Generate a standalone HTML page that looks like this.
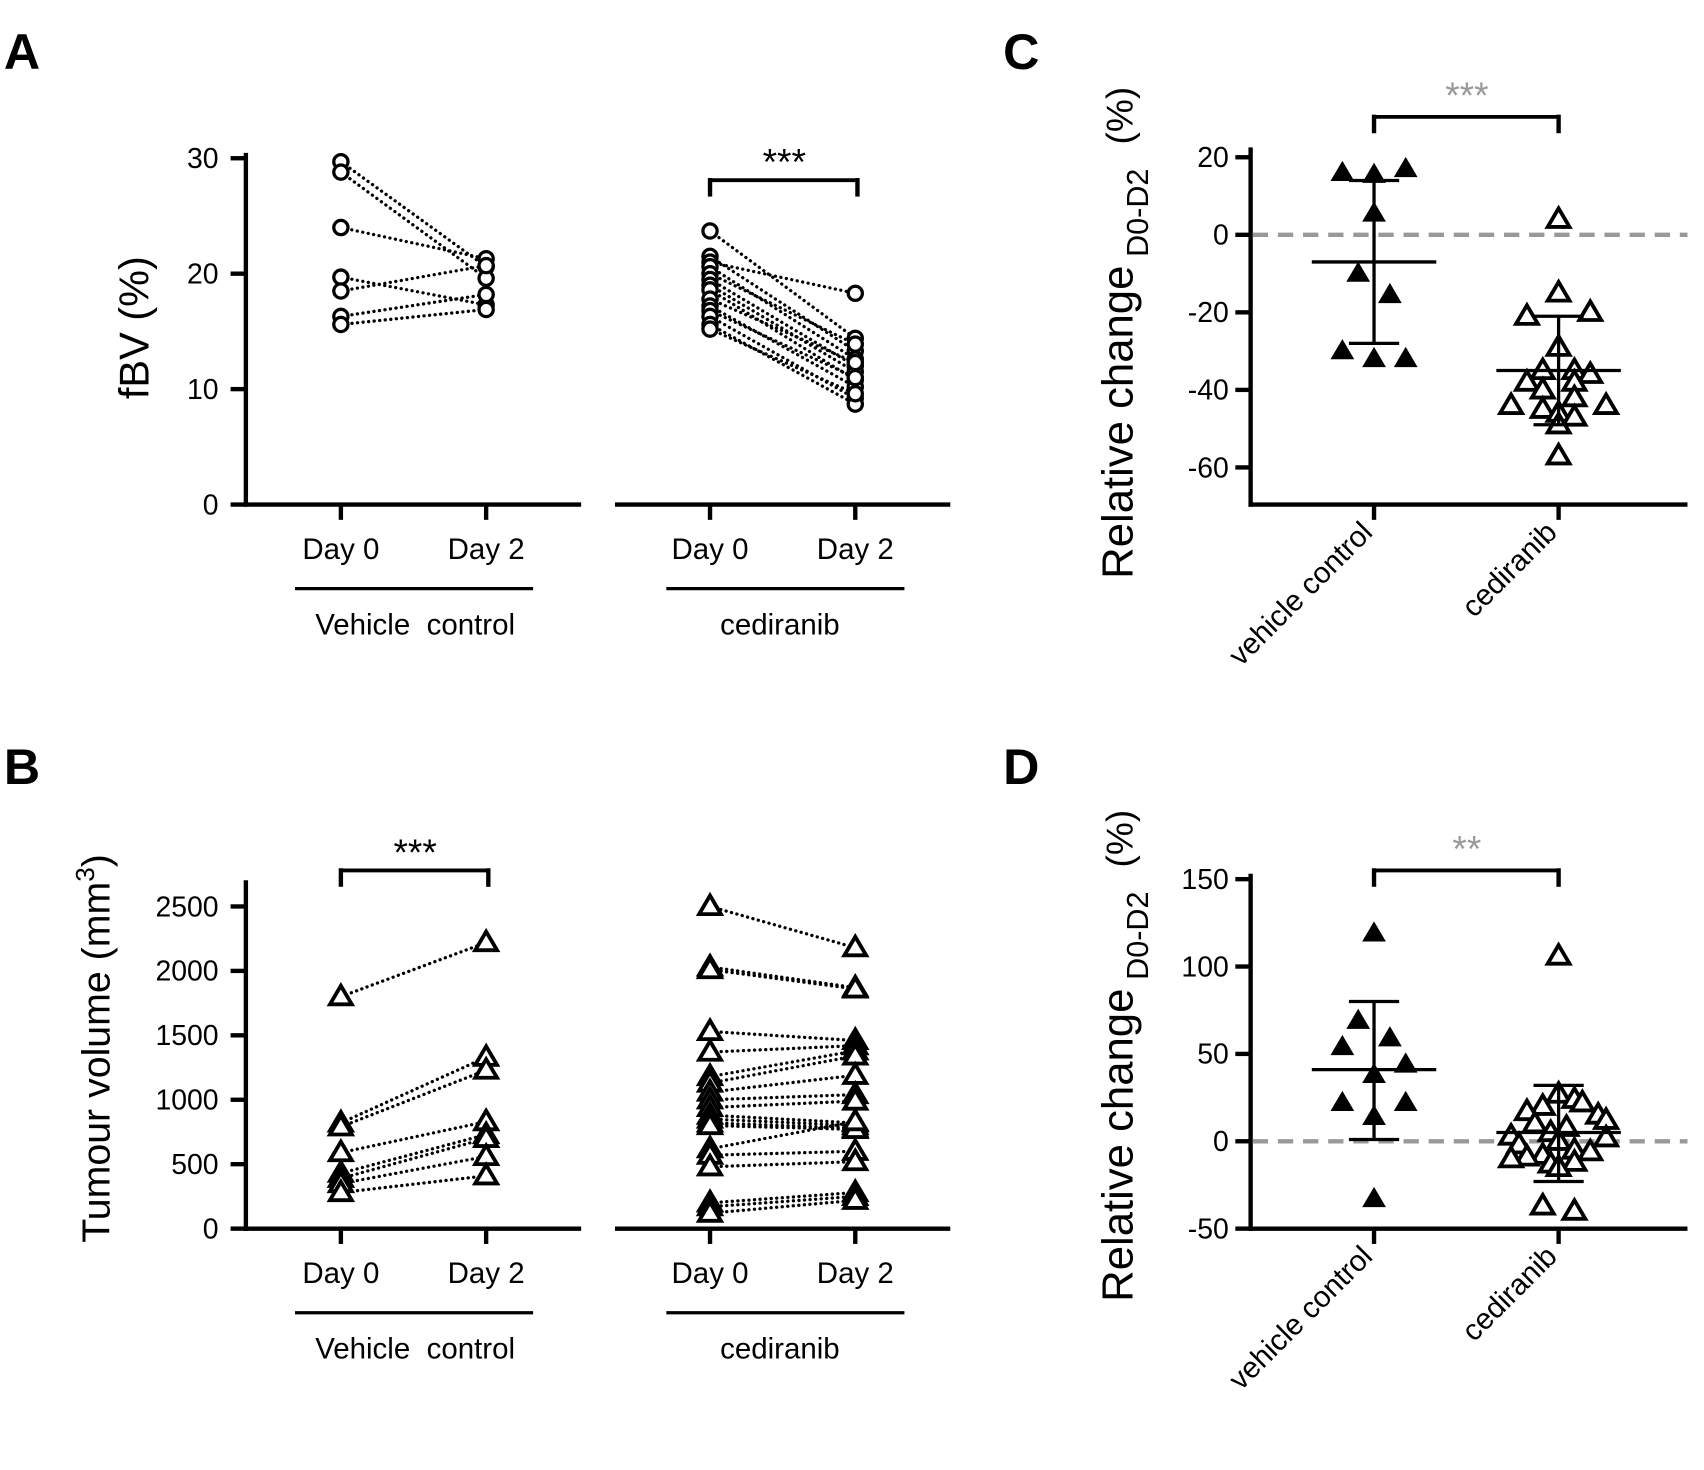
<!DOCTYPE html>
<html><head><meta charset="utf-8"><style>
html,body{margin:0;padding:0;background:#fff}
svg{display:block}
text{font-family:"Liberation Sans",Arial,sans-serif;fill:#000}
</style></head><body>
<svg id="fig" width="1704" height="1470" viewBox="0 0 1560 1346" xmlns="http://www.w3.org/2000/svg">
<g id="static"></g>
</svg>
<script>
// ---- Panel A data (fBV %) ----
const aVehDay0 = [29.7, 28.8, 24.0, 19.7, 18.5, 16.3, 15.6];
const aVehDay2 = [20.6, 19.6, 21.3, 17.3, 20.7, 18.2, 16.9];
const aCedDay0 = [23.7, 21.5, 21.0, 20.6, 20.0, 19.5, 19.0, 18.6, 17.8, 17.2, 16.8, 16.3, 15.6, 15.2];
const aCedDay2 = [14.4, 13.3, 18.3, 12.6, 13.9, 12.0, 11.5, 10.8, 12.3, 10.2, 11.0, 9.2, 8.7, 9.6];
const aTicks = [0, 10, 20, 30];
// ---- Panel B data (tumour volume) ----
const bVehDay0 = [1800, 820, 790, 590, 430, 390, 350, 280];
const bVehDay2 = [2220, 1330, 1230, 830, 730, 700, 560, 410];
const bCedDay0 = [2500, 2030, 2010, 1530, 1370, 1180, 1130, 1060, 1000, 940, 880, 850, 820, 800, 620, 570, 480, 200, 170, 120];
const bCedDay2 = [2180, 1870, 1860, 1460, 1420, 1380, 1340, 1190, 1040, 990, 820, 800, 780, 770, 830, 600, 520, 280, 250, 220];
const bTicks = [0, 500, 1000, 1500, 2000, 2500];
// ---- Panel C data (relative change %) ----
const cVeh = [16, 15.5, 17, 5.5, -10, -15.5, -30, -32, -32];
const cVehJit = [-2, 0, 2, 0, -1, 1, -2, 0, 2];
const cVehStats = [-7, 14, -28];
const cCed = [4, -15, -21, -20, -29, -35, -35, -36, -38, -38, -40, -42, -44, -44, -45, -46, -47, -49, -57];
const cCedJit = [0, 0, -2, 2, 0, -1, 1, 2, -2, 1, -1, 1, -3, 3, -1, 0, 1, 0, 0];
const cCedStats = [-35, -21, -49];
const cTicks = [-60, -40, -20, 0, 20];
// ---- Panel D data ----
const dVeh = [119, 69, 59, 54, 44, 38, 22, 22, 14, -33];
const dVehJit = [0, -1, 1, -2, 2, 0, -2, 2, 0, 0];
const dVehStats = [41, 80, 1];
const dCed = [106, 27, 24, 22, 20, 17, 15, 12, 10, 8, 5, 3, 2, 0, -2, -5, -6, -8, -9, -10, -12, -13, -15, -37, -40];
const dCedJit = [0, 0, 1, 1.5, -1, -2, 2.5, 3, -1.5, 0.5, -0.5, -3, 3, 0, -2.5, 1, 2, -1, -2, -3, 1, -0.5, 0, -1, 1];
const dCedStats = [5, 32, -23];
const dTicks = [-50, 0, 50, 100, 150];

const NS = "http://www.w3.org/2000/svg";
const root = document.getElementById('static');
function mk(tag, attrs, parent) {
  const e = document.createElementNS(NS, tag);
  for (const k in attrs) e.setAttribute(k, attrs[k]);
  (parent || root).appendChild(e);
  return e;
}
function line(x1, y1, x2, y2, w, name, extra) {
  const e = mk('line', Object.assign({x1, y1, x2, y2, stroke: '#000', 'stroke-width': w}, extra || {}));
  
  
  return e;
}
function txt(x, y, s, size, name, extra) {
  const e = mk('text', Object.assign({x, y, 'font-size': size, 'text-anchor': 'middle'}, extra || {}));
  e.textContent = s;
  
  
  return e;
}
function tri(x, y, filled, name) {
  const s = 10;
  const e = mk('polygon', {points: `${x},${y - s} ${x - s},${y + 7} ${x + s},${y + 7}`,
    fill: filled ? '#000' : '#fff', stroke: '#000', 'stroke-width': filled ? 1 : 3.5, 'stroke-linejoin': 'miter'});
  
  
  return e;
}
function circ(x, y, name) {
  const e = mk('circle', {cx: x, cy: y, r: 6.5, fill: '#fff', stroke: '#000', 'stroke-width': 3});
  
  
  return e;
}
const dotted = {'stroke-dasharray': '0.1 5', 'stroke-linecap': 'round'};

const yA = v => 462 - v * 10.57;
const yB = v => 1125 - v * 0.118;
const yC = v => 215 - v * 3.55;
const yD = v => 1045 - v * 1.6;

txt(20, 63, 'A', 46, 'panel-label-a', {'font-weight': 'bold'});
txt(20, 718, 'B', 46, 'panel-label-b', {'font-weight': 'bold'});
txt(935, 63, 'C', 46, 'panel-label-c', {'font-weight': 'bold'});
txt(935, 718, 'D', 46, 'panel-label-d', {'font-weight': 'bold'});

function pairedPanel(yf, ticks, base, top, groups, marker) {
  line(225, top, 225, base + 2, 4, 'y-axis');
  line(223, base, 532, base, 4, 'x-axis-vehicle');
  line(563, base, 870, base, 4, 'x-axis-cediranib');
  ticks.forEach(t => {
    line(211, yf(t), 225, yf(t), 4, 'y-tick');
    txt(200, yf(t) + 9, String(t), 26, 'y-tick-label', {'text-anchor': 'end'});
  });
  [312, 445, 650, 783].forEach((x, i) => {
    line(x, base, x, base + 14, 4, 'x-tick');
    txt(x, base + 50, i % 2 ? 'Day 2' : 'Day 0', 27, 'x-tick-label');
  });
  line(270, base + 77, 488, base + 77, 3, 'group-underline-vehicle');
  line(610, base + 77, 828, base + 77, 3, 'group-underline-cediranib');
  txt(380, base + 119, 'Vehicle\u00a0\u00a0control', 27, 'group-label-vehicle');
  txt(714, base + 119, 'cediranib', 27, 'group-label-cediranib');
  groups.forEach(g => {
    g.d0.forEach((v, i) => line(g.x0, yf(v), g.x1, yf(g.d2[i]), 3, 'pair-line', dotted));
    g.d0.forEach(v => marker(g.x0, yf(v), 'day0-point'));
    g.d2.forEach(v => marker(g.x1, yf(v), 'day2-point'));
  });
}

pairedPanel(yA, aTicks, 462, 140, [
  {x0: 312, x1: 445, d0: aVehDay0, d2: aVehDay2},
  {x0: 650, x1: 783, d0: aCedDay0, d2: aCedDay2}], (x, y, n) => circ(x, y, n));
txt(0, 0, 'fBV (%)', 38, 'y-axis-title-a', {transform: 'translate(136,300) rotate(-90)'});
line(650, 165, 785, 165, 3.5, 'sig-bracket-a'); line(650, 163, 650, 180, 4, 'sig-bracket-a-left'); line(785, 163, 785, 180, 4, 'sig-bracket-a-right');
txt(718, 160, '***', 34, 'sig-stars-a');

pairedPanel(yB, bTicks, 1125, 806, [
  {x0: 312, x1: 445, d0: bVehDay0, d2: bVehDay2},
  {x0: 650, x1: 783, d0: bCedDay0, d2: bCedDay2}], (x, y, n) => tri(x, y, false, n));
const tb = txt(0, 0, 'Tumour volume (mm', 36, 'y-axis-title-b', {transform: 'translate(100,960) rotate(-90)'});
const sup = mk('tspan', {dy: -14, 'font-size': 24}, tb); sup.textContent = '3';
 
const cl = mk('tspan', {dy: 14}, tb); cl.textContent = ')';
 
line(312, 797, 447, 797, 3.5, 'sig-bracket-b'); line(312, 795, 312, 812, 4, 'sig-bracket-b-left'); line(447, 795, 447, 812, 4, 'sig-bracket-b-right');
txt(380, 792, '***', 34, 'sig-stars-b');

function scatterPanel(yf, ticks, top, base, veh, vehJ, vehS, ced, cedJ, cedS, stars, starsColor, bracketY, tag, ylabelBottom) {
  line(1145, top, 1145, base + 2, 4, 'y-axis-' + tag);
  line(1143, base, 1545, base, 4, 'x-axis-' + tag);
  ticks.forEach(t => {
    line(1131, yf(t), 1145, yf(t), 4, 'y-tick');
    txt(1125, yf(t) + 9, String(t), 26, 'y-tick-label', {'text-anchor': 'end'});
  });
  line(1147, yf(0), 1545, yf(0), 4, 'zero-reference-line', {stroke: '#999', 'stroke-dasharray': '14 9'});
  [[1258, 'vehicle control'], [1427, 'cediranib']].forEach(([x, s]) => {
    line(x, base, x, base + 14, 4, 'x-tick');
    txt(0, 0, s, 27, 'x-category-label', {'text-anchor': 'end', transform: `translate(${x},${base + 27}) rotate(-45)`});
  });
  [[1258, veh, vehJ, vehS, true], [1427, ced, cedJ, cedS, false]].forEach(([cx, vals, jit, st, filled]) => {
    vals.forEach((v, i) => tri(cx + jit[i] * 14.5, yf(v), filled, 'data-point'));
    line(cx, yf(st[1]), cx, yf(st[2]), 3, 'error-bar');
    line(cx - 23, yf(st[1]), cx + 23, yf(st[1]), 3, 'error-cap-upper');
    line(cx - 23, yf(st[2]), cx + 23, yf(st[2]), 3, 'error-cap-lower');
    line(cx - 57, yf(st[0]), cx + 57, yf(st[0]), 3, 'mean-line');
  });
  line(1258, bracketY, 1427, bracketY, 3.5, 'sig-bracket-' + tag);
  line(1258, bracketY - 2, 1258, bracketY + 15, 4, 'sig-bracket-left');
  line(1427, bracketY - 2, 1427, bracketY + 15, 4, 'sig-bracket-right');
  txt(1343, bracketY - 8, stars, 34, 'sig-stars-' + tag, {fill: starsColor, style: 'fill:' + starsColor});
  const yl = txt(0, 0, 'Relative change', 40, 'y-axis-title-' + tag, {'text-anchor': 'start', transform: `translate(1037,${ylabelBottom}) rotate(-90)`});
  const sb = mk('tspan', {dy: 14, dx: 8, 'font-size': 28}, yl); sb.textContent = 'D0-D2';
   
  const pc = mk('tspan', {dy: -14, dx: 22, 'font-size': 34}, yl); pc.textContent = '(%)';
   
}
scatterPanel(yC, cTicks, 135, 462, cVeh, cVehJit, cVehStats, cCed, cCedJit, cCedStats, '***', '#999', 107, 'c', 530);
scatterPanel(yD, dTicks, 800, 1125, dVeh, dVehJit, dVehStats, dCed, dCedJit, dCedStats, '**', '#999', 797, 'd', 1192);
</script>
</body></html>
